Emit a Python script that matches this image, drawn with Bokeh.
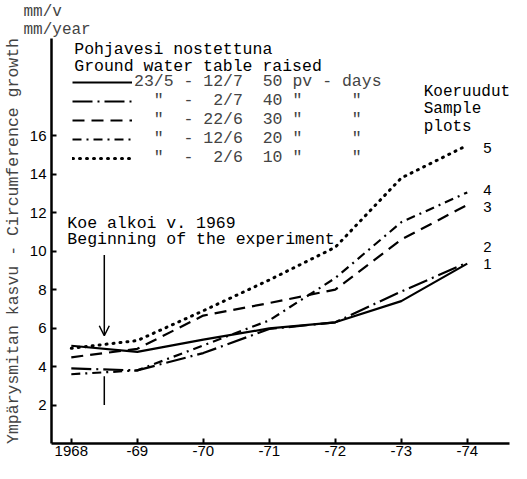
from bokeh.plotting import figure
from bokeh.models import Label, Legend, LegendItem, Arrow, OpenHead, FixedTicker
from bokeh.embed import file_html
from bokeh.resources import INLINE

# ---------------- data ----------------
years = [1968, 1969, 1970, 1971, 1972, 1973, 1974]
year_labels = ["1968", "-69", "-70", "-71", "-72", "-73", "-74"]
y_ticks = [2, 4, 6, 8, 10, 12, 14, 16]

plot1 = [5.08, 4.76, 5.4, 5.98, 6.3, 7.4, 9.35]
plot2 = [3.9, 3.8, 4.7, 5.95, 6.3, 7.9, 9.4]
plot3 = [4.48, 4.92, 6.65, 7.3, 8.0, 10.6, 12.4]
plot4 = [3.6, 3.8, 5.1, 6.4, 8.6, 11.5, 13.05]
plot5 = [4.95, 5.35, 6.9, 8.5, 10.2, 13.8, 15.5]

plot_numbers = ["1", "2", "3", "4", "5"]
legend_periods = [
    '23/5 - 12/7  50 pv - days',
    '  "  -  2/7  40 "     "',
    '  "  - 22/6  30 "     "',
    '  "  - 12/6  20 "     "',
    '  "  -  2/6  10 "     "',
]
unit_text = "mm/v\nmm/year"
experiment_start = 1968.5   # "Koe alkoi v. 1969"

MONO = "Liberation Mono"
SANS = "Liberation Sans"
MONO_SIZE = "16.5px"
NUM_SIZE = "15px"

def nb(s):
    return s.replace(" ", "\u00a0")

p = figure(width=511, height=463, output_backend="svg", toolbar_location=None,
           x_range=(1967.7, 1974.64), y_range=(0, 21.05),
           min_border_left=46, min_border_right=2, min_border_top=33,
           min_border_bottom=20)
p.outline_line_color = None
p.grid.visible = False
p.background_fill_color = "white"

# unit text as the title (above the frame, left)
p.title.text = unit_text
p.title.text_font = MONO
p.title.text_font_size = "16px"
p.title.text_font_style = "normal"
p.title.text_line_height = 1.0
p.title.align = "left"
p.title.offset = -28
p.title.standoff = 0

# axes
for ax in (p.xaxis, p.yaxis):
    ax.axis_line_width = 2.5
    ax.axis_line_color = "black"
    ax.major_tick_line_width = 2
    ax.major_tick_in = 5
    ax.major_tick_out = 0
    ax.minor_tick_line_color = None
    ax.major_label_text_font = SANS
    ax.major_label_text_font_size = NUM_SIZE
    ax.major_label_text_color = "black"

p.xaxis.ticker = FixedTicker(ticks=years)
p.xaxis.major_label_overrides = {y: l for y, l in zip(years, year_labels)}
p.xaxis.major_label_standoff = 2
p.yaxis.ticker = FixedTicker(ticks=y_ticks)
p.yaxis.major_label_standoff = 5
p.yaxis.axis_label = "Ympärysmitan kasvu - Circumference growth"
p.yaxis.axis_label_text_font = MONO
p.yaxis.axis_label_text_font_size = MONO_SIZE
p.yaxis.axis_label_text_font_style = "normal"
p.yaxis.axis_label_standoff = 4

# series
series = [plot1, plot2, plot3, plot4, plot5]
styles = [
    dict(line_dash="solid", line_width=2.2),
    dict(line_dash="20 5 2 5", line_width=2.2),
    dict(line_dash="12 7", line_width=2.2),
    dict(line_dash="9 5 2 5", line_width=2.2),
    dict(line_dash="1 6", line_width=3, line_cap="round"),
]
renderers = []
for vals, st in zip(series, styles):
    r = p.line(years, vals, line_color="black", **st)
    renderers.append(r)

legend = Legend(
    items=[LegendItem(label=nb(t), renderers=[r]) for t, r in zip(legend_periods, renderers)],
    location=(21, 276), orientation="vertical",
    glyph_width=60, glyph_height=18, label_height=18, label_standoff=2,
    spacing=0, padding=0, margin=0,
    label_text_font=MONO, label_text_font_size=MONO_SIZE,
    background_fill_alpha=0, border_line_alpha=0,
)
p.add_layout(legend)

def lab(x, y, t, font=MONO, size=MONO_SIZE, **kw):
    p.add_layout(Label(x=x, y=y, text=nb(t), text_font=font, text_font_size=size,
                       text_baseline="middle", text_align="left", text_color="black", **kw))

# header texts inside the frame
lab(1968.045, 20.49, "Pohjavesi nostettuna")
lab(1968.045, 19.6, "Ground water table raised")
lab(1973.34, 18.29, "Koeruudut", size="16px")
lab(1973.34, 17.37, "Sample", size="16px")
lab(1973.34, 16.45, "plots", size="16px")

# experiment start annotation
lab(1967.94, 11.45, "Koe alkoi v. 1969")
lab(1967.94, 10.58, "Beginning of the experiment")
p.add_layout(Arrow(end=OpenHead(size=10, line_width=1.5, line_color="black"),
                   x_start=experiment_start, y_start=9.8,
                   x_end=experiment_start, y_end=5.6,
                   line_width=1.5, line_color="black"))
p.add_layout(Arrow(end=None, x_start=experiment_start, y_start=3.5,
                   x_end=experiment_start, y_end=2.0,
                   line_width=1.5, line_color="black"))

# sample plot numbers at the line ends
num_offsets = [0, 16, -2, 2, -3]
for num, vals, off in zip(plot_numbers, series, num_offsets):
    lab(years[-1], vals[-1], num, font=SANS, size=NUM_SIZE, x_offset=16, y_offset=off)

open("out.html", "w").write(file_html(p, INLINE))
